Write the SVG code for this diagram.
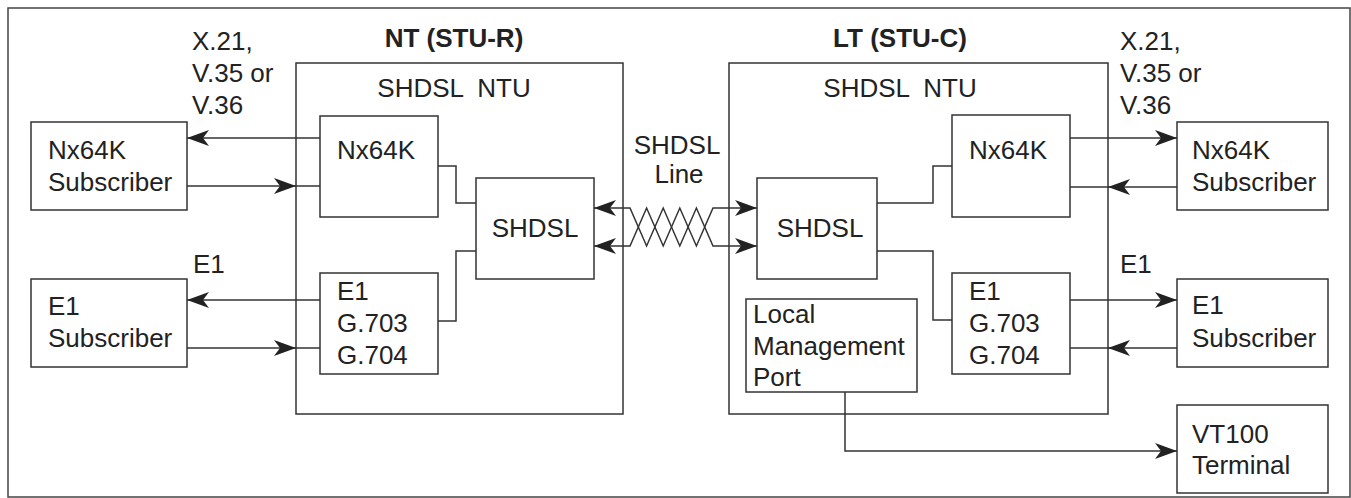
<svg xmlns="http://www.w3.org/2000/svg" width="1351" height="498" viewBox="0 0 1351 498">
<style>
.box{fill:#fff;stroke:#333;stroke-width:1.5}
.ln{fill:none;stroke:#333;stroke-width:1.5}
.ar{fill:none;stroke:#333;stroke-width:1.5;marker-end:url(#ah)}
.tw{fill:none;stroke:#333;stroke-width:1.5;marker-start:url(#ah);marker-end:url(#ah)}
text{font-family:"Liberation Sans",Arial,Helvetica,sans-serif;font-size:26px;fill:#222}
.b{font-weight:bold}
.c{text-anchor:middle}
</style>
<defs>
<marker id="ah" viewBox="0 0 22 16" refX="22" refY="8" markerWidth="22" markerHeight="16" markerUnits="userSpaceOnUse" orient="auto-start-reverse">
<path d="M22,8 L0,0 L6,8 L0,16 Z" fill="#222"/>
</marker>
</defs>
<rect x="8" y="8" width="1342" height="489" fill="none" stroke="#444" stroke-width="1.5"/>

<g id="nt">
<rect class="box" x="296" y="63" width="327" height="351"/>
<text class="b c" x="454" y="47">NT (STU-R)</text>
<text class="c" x="454" y="97" word-spacing="7">SHDSL NTU</text>
</g>
<g id="lt">
<rect class="box" x="729" y="63" width="379" height="351"/>
<text class="b c" x="900" y="47">LT (STU-C)</text>
<text class="c" x="900" y="97" word-spacing="7">SHDSL NTU</text>
</g>

<g id="nt-nx64k">
<rect class="box" x="320" y="116" width="118" height="101"/>
<text x="337" y="159">Nx64K</text>
</g>
<g id="nt-shdsl">
<rect class="box" x="476" y="178" width="118" height="101"/>
<text class="c" x="535" y="237">SHDSL</text>
</g>
<g id="nt-e1">
<rect class="box" x="320" y="273" width="118" height="101"/>
<text x="337" y="300">E1</text>
<text x="337" y="332">G.703</text>
<text x="337" y="364">G.704</text>
</g>

<g id="lt-nx64k">
<rect class="box" x="952" y="115" width="118" height="102"/>
<text x="969" y="159">Nx64K</text>
</g>
<g id="lt-shdsl">
<rect class="box" x="757" y="178" width="120" height="101"/>
<text class="c" x="820" y="237">SHDSL</text>
</g>
<g id="lt-e1">
<rect class="box" x="952" y="273" width="118" height="101"/>
<text x="969" y="300">E1</text>
<text x="969" y="332">G.703</text>
<text x="969" y="364">G.704</text>
</g>
<g id="lmp">
<rect class="box" x="746" y="299" width="171" height="93"/>
<text x="753" y="323">Local</text>
<text x="753" y="355">Management</text>
<text x="753" y="386">Port</text>
</g>

<g id="sub-nx64k-l">
<rect class="box" x="31" y="122" width="156" height="88"/>
<text x="48" y="159">Nx64K</text>
<text x="48" y="191">Subscriber</text>
</g>
<g id="sub-e1-l">
<rect class="box" x="31" y="279" width="156" height="88"/>
<text x="48" y="315">E1</text>
<text x="48" y="347">Subscriber</text>
</g>
<g id="sub-nx64k-r">
<rect class="box" x="1177" y="122" width="151" height="88"/>
<text x="1192" y="159">Nx64K</text>
<text x="1192" y="191">Subscriber</text>
</g>
<g id="sub-e1-r">
<rect class="box" x="1177" y="279" width="151" height="88"/>
<text x="1192" y="314">E1</text>
<text x="1192" y="347">Subscriber</text>
</g>
<g id="vt100">
<rect class="box" x="1177" y="405" width="151" height="88"/>
<text x="1192" y="443">VT100</text>
<text x="1192" y="474">Terminal</text>
</g>

<g id="labels">
<text x="192" y="50">X.21,</text>
<text x="192" y="82">V.35 or</text>
<text x="192" y="114">V.36</text>
<text x="193" y="273">E1</text>
<text x="1120" y="50">X.21,</text>
<text x="1120" y="82">V.35 or</text>
<text x="1120" y="114">V.36</text>
<text x="1120" y="273">E1</text>
<text class="c" x="677" y="154">SHDSL</text>
<text class="c" x="679" y="183">Line</text>
</g>

<g id="connectors">
<line class="ar" x1="320" y1="138" x2="187" y2="138"/>
<line class="ar" x1="187" y1="186" x2="296" y2="186"/>
<line class="ln" x1="296" y1="186" x2="320" y2="186"/>
<line class="ar" x1="320" y1="300" x2="187" y2="300"/>
<line class="ar" x1="187" y1="348" x2="296" y2="348"/>
<line class="ln" x1="296" y1="348" x2="320" y2="348"/>

<line class="ar" x1="1070" y1="138" x2="1177" y2="138"/>
<line class="ar" x1="1177" y1="187" x2="1108" y2="187"/>
<line class="ln" x1="1108" y1="187" x2="1070" y2="187"/>
<line class="ar" x1="1070" y1="300" x2="1177" y2="300"/>
<line class="ar" x1="1177" y1="348" x2="1108" y2="348"/>
<line class="ln" x1="1108" y1="348" x2="1070" y2="348"/>

<polyline class="ar" points="845,392 845,451 1177,451"/>

<polyline class="ln" points="438,166 456,166 456,203 476,203"/>
<polyline class="ln" points="438,321 456,321 456,251 476,251"/>
<polyline class="ln" points="877,203 933,203 933,166 952,166"/>
<polyline class="ln" points="877,251 933,251 933,320 952,320"/>

<polyline class="tw" points="594,208 630,208 646.6,246 663.2,208 679.8,246 696.4,208 713,246 757,246"/>
<polyline class="tw" points="594,246 630,246 646.6,208 663.2,246 679.8,208 696.4,246 713,208 757,208"/>
</g>
</svg>
